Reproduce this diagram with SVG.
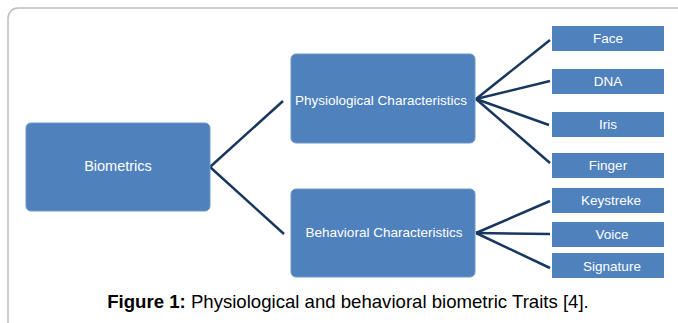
<svg xmlns="http://www.w3.org/2000/svg" width="678" height="323" viewBox="0 0 678 323">
<style>
.big{fill:#4F81BD;stroke:#6E97C8;stroke-width:1}
.small{fill:#4F81BD}
.t{font-family:"Liberation Sans",Arial,sans-serif;font-size:13.5px;fill:#FFFFFF;text-anchor:middle}
.c line{stroke:#17375E;stroke-width:2.5}
.cap{font-family:"Liberation Sans",Arial,sans-serif;font-size:18.6px;fill:#000000;text-anchor:middle}
</style>
<rect x="0" y="0" width="678" height="323" fill="#FFFFFF"/>
<rect x="8" y="8" width="720" height="400" rx="10" fill="none" stroke="#BDBDBD" stroke-width="1.5"/>
<g class="c" id="connectors">
<line x1="210" y1="167" x2="283" y2="101"/>
<line x1="210" y1="167" x2="284" y2="234"/>
<line x1="476" y1="99" x2="550" y2="40"/>
<line x1="476" y1="99" x2="550" y2="81"/>
<line x1="476" y1="99" x2="549" y2="125"/>
<line x1="476" y1="99" x2="550" y2="163"/>
<line x1="476" y1="233" x2="550" y2="201"/>
<line x1="476" y1="233" x2="550" y2="234"/>
<line x1="476" y1="233" x2="550" y2="268"/>
</g>
<g id="biometrics"><rect class="big" x="26" y="123" width="184" height="88" rx="5"/><text class="t" x="118" y="171" style="font-size:14.5px">Biometrics</text></g>
<g id="physiological"><rect class="big" x="291" y="54" width="184" height="89" rx="5"/><text class="t" x="381" y="105">Physiological Characteristics</text></g>
<g id="behavioral"><rect class="big" x="291" y="189" width="184" height="88" rx="5"/><text class="t" x="384" y="237">Behavioral Characteristics</text></g>
<g id="face"><rect class="small" x="552" y="26" width="112" height="25"/><text class="t" x="608" y="42.5">Face</text></g>
<g id="dna"><rect class="small" x="552" y="69" width="112" height="25"/><text class="t" x="608" y="86">DNA</text></g>
<g id="iris"><rect class="small" x="552" y="112" width="112" height="25"/><text class="t" x="608" y="129">Iris</text></g>
<g id="finger"><rect class="small" x="552" y="153" width="112" height="25"/><text class="t" x="608" y="170">Finger</text></g>
<g id="keystreke"><rect class="small" x="552" y="188" width="112" height="25"/><text class="t" x="611" y="205">Keystreke</text></g>
<g id="voice"><rect class="small" x="552" y="222" width="112" height="25"/><text class="t" x="612" y="239">Voice</text></g>
<g id="signature"><rect class="small" x="552" y="253" width="112" height="25"/><text class="t" x="612" y="270.5">Signature</text></g>
<text class="cap" x="348" y="308"><tspan font-weight="bold">Figure 1:</tspan> Physiological and behavioral biometric Traits [4].</text>
</svg>
